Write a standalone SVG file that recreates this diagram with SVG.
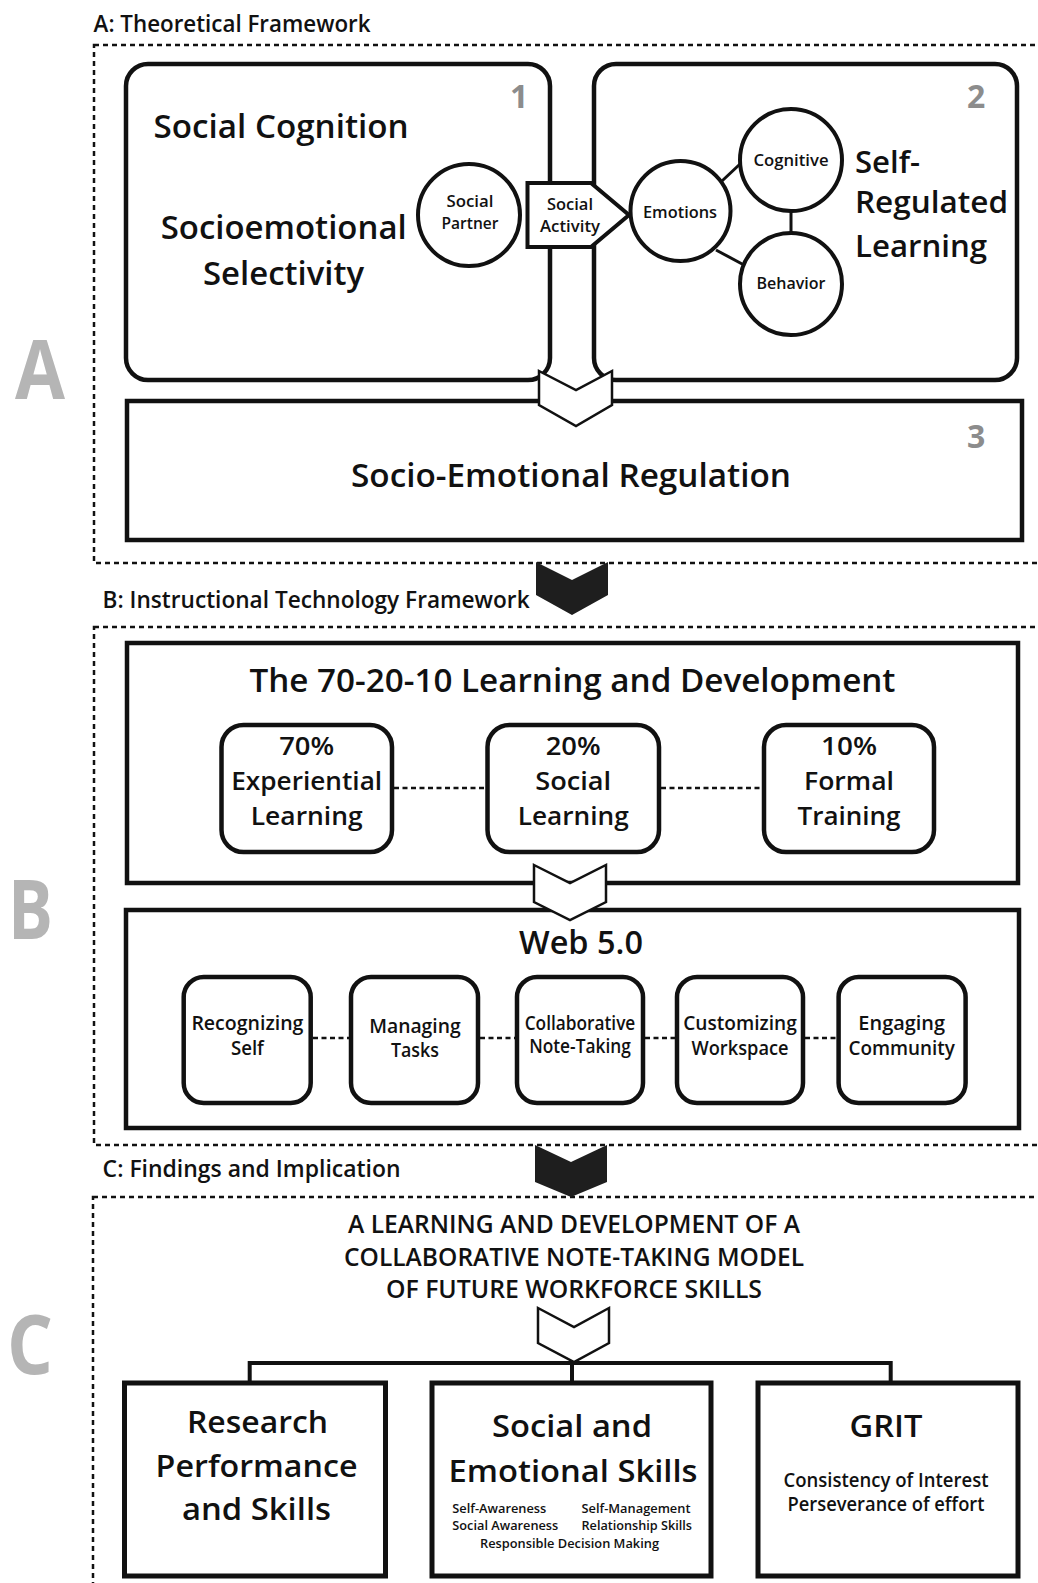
<svg xmlns="http://www.w3.org/2000/svg" width="1038" height="1583" viewBox="0 0 1038 1583">
  <style>
    .t { font-family: "Open Sans", "Liberation Sans", sans-serif; font-weight: 600; fill: #111; }
    .mid { text-anchor: middle; }
    .num { font-family: "Open Sans", "Liberation Sans", sans-serif; font-weight: 700; fill: #8c8c8c; font-size: 32px; }
    .big { font-family: "Open Sans", "Liberation Sans", sans-serif; font-weight: 700; fill: #b5b5b5; font-size: 82px; }
    .frame { fill: none; stroke: #111; stroke-width: 2.5; stroke-dasharray: 5 4; }
    .box { fill: #fff; stroke: #111; stroke-width: 4.5; }
    .thick { fill: #fff; stroke: #111; stroke-width: 5; }
    .circ { fill: #fff; stroke: #111; stroke-width: 4; }
    .link { stroke: #111; stroke-width: 3; fill: none; }
    .dots { stroke: #111; stroke-width: 2.5; stroke-dasharray: 5 3.5; fill: none; }
    .tree { stroke: #111; stroke-width: 4; fill: none; }
    .chev { fill: #fff; stroke: #111; stroke-width: 2.5; stroke-linejoin: miter; }
    .chevDark { fill: #1e1e1e; stroke: none; }
  </style>

  <!-- Section letters -->
  <g id="section-letters">
    <text class="big" x="15" y="399" textLength="50" lengthAdjust="spacingAndGlyphs">A</text>
    <text class="big" x="8" y="939" textLength="45" lengthAdjust="spacingAndGlyphs">B</text>
    <text class="big" x="7" y="1374" textLength="46" lengthAdjust="spacingAndGlyphs">C</text>
  </g>

  <!-- Section A: theoretical framework -->
  <g id="frame-a">
    <text class="t" x="93.6" y="32" font-size="24" textLength="277" lengthAdjust="spacingAndGlyphs">A: Theoretical Framework</text>
    <rect class="frame" x="94" y="45" width="1000" height="518"/>
  </g>

  <g id="box-social-cognition">
    <rect class="box" x="126" y="64" width="424" height="316" rx="22"/>
    <text class="num" x="510" y="108">1</text>
    <text class="t" x="153.6" y="138" font-size="32" textLength="255" lengthAdjust="spacingAndGlyphs">Social Cognition</text>
    <text class="t" x="160.7" y="239" font-size="32" textLength="246" lengthAdjust="spacingAndGlyphs">Socioemotional</text>
    <text class="t" x="203" y="285" font-size="32" textLength="161" lengthAdjust="spacingAndGlyphs">Selectivity</text>
  </g>

  <g id="box-self-regulated">
    <rect class="box" x="594" y="64" width="423" height="316" rx="22"/>
    <text class="num" x="967" y="108">2</text>
    <text class="t" x="855" y="173" font-size="31" textLength="65" lengthAdjust="spacingAndGlyphs">Self-</text>
    <text class="t" x="855" y="213" font-size="31" textLength="153" lengthAdjust="spacingAndGlyphs">Regulated</text>
    <text class="t" x="855" y="257" font-size="31" textLength="132" lengthAdjust="spacingAndGlyphs">Learning</text>
  </g>

  <g id="box-socio-emotional-regulation">
    <rect class="box" x="127" y="401" width="895" height="139"/>
    <text class="num" x="967" y="448">3</text>
    <text class="t" x="351" y="487" font-size="32" textLength="440" lengthAdjust="spacingAndGlyphs">Socio-Emotional Regulation</text>
  </g>

  <g id="node-social-partner">
    <circle class="circ" cx="469" cy="215" r="51"/>
    <text class="t mid" x="470" y="207" font-size="17" textLength="47" lengthAdjust="spacingAndGlyphs">Social</text>
    <text class="t mid" x="470" y="229" font-size="17" textLength="57" lengthAdjust="spacingAndGlyphs">Partner</text>
  </g>

  <g id="node-social-activity">
    <polygon class="circ" points="527.5,183 591,183 629,215 591,247 527.5,247"/>
    <text class="t mid" x="570" y="210" font-size="17" textLength="46" lengthAdjust="spacingAndGlyphs">Social</text>
    <text class="t mid" x="570" y="232" font-size="17" textLength="60" lengthAdjust="spacingAndGlyphs">Activity</text>
  </g>

  <g id="node-emotions">
    <circle class="circ" cx="680.5" cy="211" r="50"/>
    <text class="t mid" x="680" y="218" font-size="17" textLength="74" lengthAdjust="spacingAndGlyphs">Emotions</text>
  </g>

  <g id="node-cognitive">
    <circle class="circ" cx="791" cy="160" r="51"/>
    <text class="t mid" x="791" y="166" font-size="17" textLength="75" lengthAdjust="spacingAndGlyphs">Cognitive</text>
  </g>

  <g id="node-behavior">
    <circle class="circ" cx="791" cy="284" r="51"/>
    <text class="t mid" x="791" y="289" font-size="17" textLength="69" lengthAdjust="spacingAndGlyphs">Behavior</text>
  </g>

  <!-- Section B: instructional technology framework -->
  <g id="frame-b">
    <text class="t" x="102.6" y="608" font-size="23" textLength="427" lengthAdjust="spacingAndGlyphs">B: Instructional Technology Framework</text>
    <rect class="frame" x="94" y="627" width="1000" height="518"/>
  </g>

  <g id="box-70-20-10">
    <rect class="box" x="127" y="643" width="891" height="240"/>
    <text class="t" x="249.5" y="692" font-size="32" textLength="646" lengthAdjust="spacingAndGlyphs">The 70-20-10 Learning and Development</text>
  </g>

  <g id="node-experiential">
    <rect class="box" x="221.5" y="725" width="170.5" height="127" rx="22"/>
    <text class="t mid" x="306.7" y="755" font-size="25" textLength="55" lengthAdjust="spacingAndGlyphs">70%</text>
    <text class="t mid" x="306.7" y="790" font-size="25" textLength="151" lengthAdjust="spacingAndGlyphs">Experiential</text>
    <text class="t mid" x="306.7" y="825" font-size="25" textLength="112" lengthAdjust="spacingAndGlyphs">Learning</text>
  </g>

  <g id="node-social-learning">
    <rect class="box" x="487.5" y="725" width="171.5" height="127" rx="22"/>
    <text class="t mid" x="573.2" y="755" font-size="25" textLength="55" lengthAdjust="spacingAndGlyphs">20%</text>
    <text class="t mid" x="573.2" y="790" font-size="25" textLength="76" lengthAdjust="spacingAndGlyphs">Social</text>
    <text class="t mid" x="573.2" y="825" font-size="25" textLength="111" lengthAdjust="spacingAndGlyphs">Learning</text>
  </g>

  <g id="node-formal-training">
    <rect class="box" x="764" y="725" width="170" height="127" rx="22"/>
    <text class="t mid" x="849" y="755" font-size="25" textLength="56" lengthAdjust="spacingAndGlyphs">10%</text>
    <text class="t mid" x="849" y="790" font-size="25" textLength="90" lengthAdjust="spacingAndGlyphs">Formal</text>
    <text class="t mid" x="849" y="825" font-size="25" textLength="103" lengthAdjust="spacingAndGlyphs">Training</text>
  </g>

  <g id="box-web-5">
    <rect class="box" x="126" y="910" width="893" height="218"/>
    <text class="t mid" x="581" y="954" font-size="32" textLength="124" lengthAdjust="spacingAndGlyphs">Web 5.0</text>
  </g>

  <g id="node-recognizing-self">
    <rect class="box" x="183.7" y="977" width="127" height="126" rx="20"/>
    <text class="t mid" x="247.4" y="1030" font-size="19" textLength="112" lengthAdjust="spacingAndGlyphs">Recognizing</text>
    <text class="t mid" x="247.4" y="1055" font-size="19" textLength="33" lengthAdjust="spacingAndGlyphs">Self</text>
  </g>

  <g id="node-managing-tasks">
    <rect class="box" x="351" y="977" width="127" height="126" rx="20"/>
    <text class="t mid" x="414.9" y="1032.5" font-size="19" textLength="91.5" lengthAdjust="spacingAndGlyphs">Managing</text>
    <text class="t mid" x="414.9" y="1056.5" font-size="19" textLength="48" lengthAdjust="spacingAndGlyphs">Tasks</text>
  </g>

  <g id="node-collaborative-note-taking">
    <rect class="box" x="517" y="977" width="126" height="126" rx="20"/>
    <text class="t mid" x="580" y="1029.5" font-size="19" textLength="110.6" lengthAdjust="spacingAndGlyphs">Collaborative</text>
    <text class="t mid" x="580" y="1052.7" font-size="19" textLength="101.7" lengthAdjust="spacingAndGlyphs">Note-Taking</text>
  </g>

  <g id="node-customizing-workspace">
    <rect class="box" x="677" y="977" width="126" height="126" rx="20"/>
    <text class="t mid" x="740" y="1030" font-size="19" textLength="113.6" lengthAdjust="spacingAndGlyphs">Customizing</text>
    <text class="t mid" x="740" y="1055" font-size="19" textLength="97" lengthAdjust="spacingAndGlyphs">Workspace</text>
  </g>

  <g id="node-engaging-community">
    <rect class="box" x="838.6" y="977" width="127" height="126" rx="20"/>
    <text class="t mid" x="901.7" y="1030" font-size="19" textLength="86.7" lengthAdjust="spacingAndGlyphs">Engaging</text>
    <text class="t mid" x="901.7" y="1055" font-size="19" textLength="106.5" lengthAdjust="spacingAndGlyphs">Community</text>
  </g>

  <!-- Section C: findings and implication -->
  <g id="frame-c">
    <text class="t" x="102.6" y="1177" font-size="23" textLength="298" lengthAdjust="spacingAndGlyphs">C: Findings and Implication</text>
    <rect class="frame" x="93" y="1197" width="1000" height="500"/>
  </g>

  <g id="model-heading">
    <text class="t mid" x="574" y="1233" font-size="25" textLength="452" lengthAdjust="spacingAndGlyphs">A LEARNING AND DEVELOPMENT OF A</text>
    <text class="t mid" x="574" y="1266" font-size="25" textLength="460" lengthAdjust="spacingAndGlyphs">COLLABORATIVE NOTE-TAKING MODEL</text>
    <text class="t mid" x="574" y="1298" font-size="25" textLength="376" lengthAdjust="spacingAndGlyphs">OF FUTURE WORKFORCE SKILLS</text>
  </g>

  <g id="node-research">
    <rect class="thick" x="124.5" y="1383" width="261" height="193"/>
    <text class="t mid" x="257.5" y="1433" font-size="31" textLength="141" lengthAdjust="spacingAndGlyphs">Research</text>
    <text class="t mid" x="256.6" y="1477" font-size="31" textLength="202" lengthAdjust="spacingAndGlyphs">Performance</text>
    <text class="t mid" x="256.5" y="1520" font-size="31" textLength="149" lengthAdjust="spacingAndGlyphs">and Skills</text>
  </g>

  <g id="node-social-emotional-skills">
    <rect class="thick" x="432" y="1383" width="279" height="193"/>
    <text class="t mid" x="572" y="1437" font-size="31" textLength="160" lengthAdjust="spacingAndGlyphs">Social and</text>
    <text class="t mid" x="573" y="1482" font-size="31" textLength="249" lengthAdjust="spacingAndGlyphs">Emotional Skills</text>
    <text class="t" x="452.3" y="1513" font-size="13" textLength="94" lengthAdjust="spacingAndGlyphs">Self-Awareness</text>
    <text class="t" x="581.5" y="1513" font-size="13" textLength="109" lengthAdjust="spacingAndGlyphs">Self-Management</text>
    <text class="t" x="452.3" y="1530" font-size="13" textLength="106" lengthAdjust="spacingAndGlyphs">Social Awareness</text>
    <text class="t" x="581.5" y="1530" font-size="13" textLength="110.5" lengthAdjust="spacingAndGlyphs">Relationship Skills</text>
    <text class="t" x="480" y="1548" font-size="13" textLength="179" lengthAdjust="spacingAndGlyphs">Responsible Decision Making</text>
  </g>

  <g id="node-grit">
    <rect class="thick" x="758" y="1383" width="260" height="193"/>
    <text class="t mid" x="886" y="1437" font-size="31" textLength="73" lengthAdjust="spacingAndGlyphs">GRIT</text>
    <text class="t mid" x="886" y="1487" font-size="19" textLength="205" lengthAdjust="spacingAndGlyphs">Consistency of Interest</text>
    <text class="t mid" x="886" y="1511" font-size="19" textLength="197" lengthAdjust="spacingAndGlyphs">Perseverance of effort</text>
  </g>

  <!-- Connectors, drawn last so the arrows sit over the box borders -->
  <g id="connectors">
    <!-- self-regulation triad -->
    <line class="link" x1="722" y1="181" x2="740" y2="164"/>
    <line class="link" x1="791" y1="211" x2="791" y2="233"/>
    <line class="link" x1="716" y1="250" x2="744" y2="265"/>
    <!-- arrow from the two theories into regulation -->
    <polygon class="chev" points="539,371 576,390 612,371 612,405 576,426 539,405"/>
    <!-- section arrows -->
    <polygon class="chevDark" points="536,562 572,580 608,562 608,595 572,615 536,595"/>
    <polygon class="chevDark" points="535,1145 571,1162 607,1145 607,1182 571,1197 535,1182"/>
    <!-- 70-20-10 links -->
    <line class="dots" x1="394" y1="788" x2="485.5" y2="788"/>
    <line class="dots" x1="661" y1="788" x2="762" y2="788"/>
    <polygon class="chev" points="534,865 570,883 606,865 606,902 570,920 534,902"/>
    <!-- Web 5.0 links -->
    <line class="dots" x1="313" y1="1038" x2="349" y2="1038"/>
    <line class="dots" x1="480" y1="1038" x2="515" y2="1038"/>
    <line class="dots" x1="645" y1="1038" x2="675" y2="1038"/>
    <line class="dots" x1="805" y1="1038" x2="836.5" y2="1038"/>
    <!-- findings tree -->
    <polyline class="tree" points="249.7,1381 249.7,1363 890.7,1363 890.7,1381"/>
    <line class="tree" x1="572" y1="1363" x2="572" y2="1381"/>
    <polygon class="chev" points="538,1308 574,1327 609,1308 609,1343 574,1362 538,1343"/>
  </g>
</svg>
